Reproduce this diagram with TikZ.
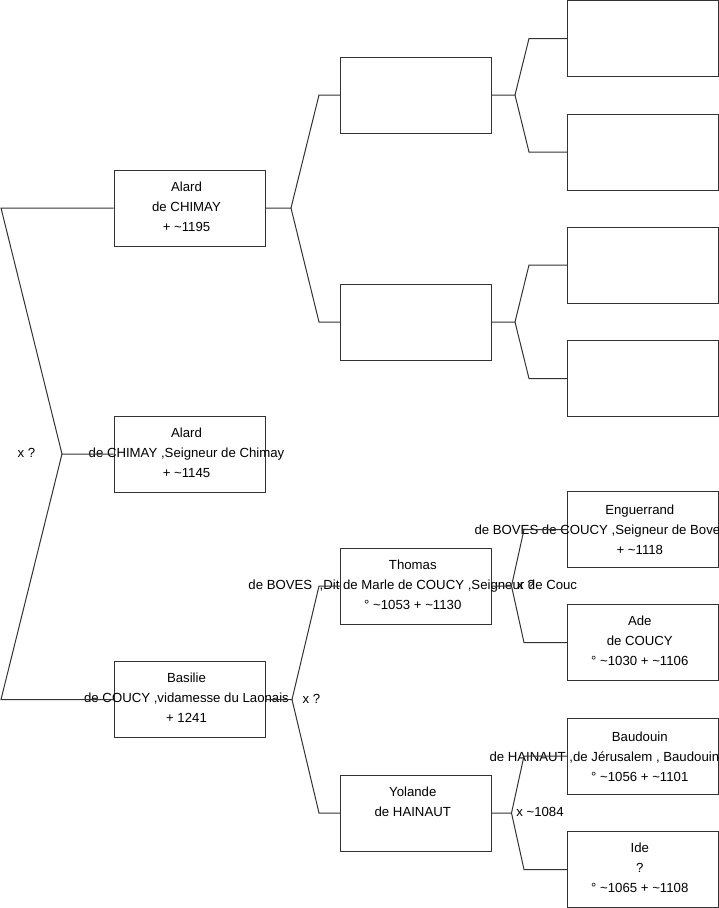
\documentclass[tikz,border=0pt]{standalone}
\usepackage{fontspec}
\setmainfont{Liberation Sans}
\begin{document}
\begin{tikzpicture}[x=1pt,y=-1pt,
  box/.style={draw=black!80,line width=1pt,minimum width=151pt,minimum height=76pt,inner sep=0pt,fill=white},
  lbl/.style={align=center,font=\fontsize{13.2}{20}\selectfont,inner sep=0pt},
  lnk/.style={draw=black!80,line width=1pt},
  txt/.style={font=\fontsize{13.2}{20}\selectfont,inner sep=0pt}]
\useasboundingbox (0,0) rectangle (719,908);
% level 1
\node[box] (a1) at (189.7,208) {};
\node[box] (a2) at (189.7,454) {};
\node[box] (b) at (189.7,699.5) {};
% level 2
\node[box] (p1) at (416,95) {};
\node[box] (p2) at (416,322) {};
\node[box] (th) at (416,586) {};
\node[box] (yo) at (416,813) {};
% level 3
\node[box] (q1) at (642.8,38.5) {};
\node[box] (q2) at (642.8,152) {};
\node[box] (q3) at (642.8,265) {};
\node[box] (q4) at (642.8,378.5) {};
\node[box] (en) at (642.8,529.5) {};
\node[box] (ad) at (642.8,642.5) {};
\node[box] (ba) at (642.8,756) {};
\node[box] (id) at (642.8,869.5) {};
% texts
\node[lbl] (ta1) at (186.5,207) {\strut Alard\\\strut de CHIMAY\\\strut + \textasciitilde1195};
\node[lbl] (ta2) at (186.5,453) {\strut Alard\\\strut de CHIMAY ,Seigneur de Chimay\\\strut + \textasciitilde1145};
\node[lbl] (tb) at (186.5,698.5) {\strut Basilie\\\strut de COUCY ,vidamesse du Laonais\\\strut + 1241};
\node[lbl] (tth) at (412.8,585) {\strut Thomas\\\strut de BOVES\ \ ,Dit de Marle de COUCY ,Seigneur de Couc\\\strut \textdegree\ \textasciitilde1053 + \textasciitilde1130};
\node[lbl] (tyo) at (412.8,812) {\strut Yolande\\\strut de HAINAUT\\\strut};
\node[lbl] (ten1) at (639.8,510.5) {\strut Enguerrand};
\node[txt,anchor=base west] (ten2) at (474.3,534.5) {de BOVES de COUCY ,Seigneur de Boves};
\node[lbl] (ten3) at (639.8,550.5) {\strut + \textasciitilde1118};
\node[lbl] (tad) at (639.8,641.5) {\strut Ade\\\strut de COUCY\\\strut \textdegree\ \textasciitilde1030 + \textasciitilde1106};
\node[lbl] (tba1) at (639.8,737) {\strut Baudouin};
\node[txt,anchor=base west] (tba2) at (489.3,761) {de HAINAUT ,de J\'erusalem , Baudouin};
\node[lbl] (tba3) at (639.8,777) {\strut \textdegree\ \textasciitilde1056 + \textasciitilde1101};
\node[lbl] (tid) at (639.8,868.5) {\strut Ide\\\strut ?\\\strut \textdegree\ \textasciitilde1065 + \textasciitilde1108};
% marriage labels
\node[txt] (m1) at (26.5,452.5) {x ?};
\node[txt] (m2) at (311.5,699) {x ?};
\node[txt] (m3) at (526,585) {x ?};
\node[txt] (m4) at (540,812) {x \textasciitilde1084};
% fork coordinates
\coordinate (f0) at (62,454);
\coordinate (f0a) at (1,208);
\coordinate (f0b) at (1,699.5);
\coordinate (f1) at (291,208);
\coordinate (f1a) at (319,95);
\coordinate (f1b) at (319,322);
\coordinate (f2) at (292,699.5);
\coordinate (f2a) at (319,586);
\coordinate (f2b) at (319,813);
\coordinate (g1) at (515,95);
\coordinate (g1a) at (529,38.5);
\coordinate (g1b) at (529,152);
\coordinate (g2) at (515,322);
\coordinate (g2a) at (529,265);
\coordinate (g2b) at (529,378.5);
\coordinate (g3) at (511.5,586);
\coordinate (g3a) at (524,529.5);
\coordinate (g3b) at (524,642.5);
\coordinate (g4) at (511.5,813);
\coordinate (g4a) at (524,756);
\coordinate (g4b) at (524,869.5);
% connectors
\draw[lnk] (a2.west) -- (f0) -- (f0a) -- (a1.west);
\draw[lnk] (f0) -- (f0b) -- (b.west);
\draw[lnk] (a1.east) -- (f1) -- (f1a) -- (p1.west);
\draw[lnk] (f1) -- (f1b) -- (p2.west);
\draw[lnk] (b.east) -- (f2) -- (f2a) -- (th.west);
\draw[lnk] (f2) -- (f2b) -- (yo.west);
\draw[lnk] (p1.east) -- (g1) -- (g1a) -- (q1.west);
\draw[lnk] (g1) -- (g1b) -- (q2.west);
\draw[lnk] (p2.east) -- (g2) -- (g2a) -- (q3.west);
\draw[lnk] (g2) -- (g2b) -- (q4.west);
\draw[lnk] (th.east) -- (g3) -- (g3a) -- (en.west);
\draw[lnk] (g3) -- (g3b) -- (ad.west);
\draw[lnk] (yo.east) -- (g4) -- (g4a) -- (ba.west);
\draw[lnk] (g4) -- (g4b) -- (id.west);
\end{tikzpicture}
\end{document}
